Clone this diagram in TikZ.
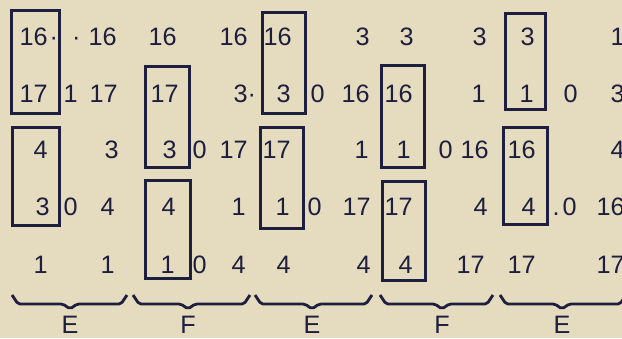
\documentclass[tikz,border=0pt]{standalone}
\usepackage{fontspec}
\setmainfont{Liberation Sans}
\definecolor{paper}{RGB}{229,219,191}
\definecolor{ink}{RGB}{30,30,62}
\tikzset{
  num/.style={anchor=east, inner sep=0pt, text=ink, font=\fontsize{12.6}{14}\selectfont},
  lbl/.style={anchor=north, inner sep=0pt, text=ink, font=\fontsize{12.6}{14}\selectfont},
  grp/.style={draw=ink, line width=1.5pt},
  brk/.style={draw=ink, line width=1.4pt, rounded corners=1pt},
}
\begin{document}
\begin{tikzpicture}[x=0.5pt, y=-0.5pt]
  \fill[paper] (0,0) rectangle (622,338);
  \useasboundingbox (0,0) rectangle (622,338);
  % the five rows, right edges of the columns
  \foreach \x/\t [count=\k] in {48/16\rlap{\kern1pt·}, 117/\llap{·\kern4pt}16, 177/16, 248/16, 292/16,
      370/3, 414/3, 487/3, 535/3, 625/1}
    \node[num] (ra\k) at (\x,37) {\t};
  \foreach \x/\t [count=\k] in {48/17, 78/1, 118/17, 179/17, 248/3\rlap{·}, 291/3, 325/0,
      370/16, 413/16, 486/1, 534/1, 578/0, 625/3}
    \node[num] (rb\k) at (\x,94) {\t};
  \foreach \x/\t [count=\k] in {48/4, 119/3, 177/3, 207/0, 248/17, 291/17, 369/1, 411/1,
      453/0, 489/16, 536/16, 625/4}
    \node[num] (rc\k) at (\x,150) {\t};
  \foreach \x/\t [count=\k] in {50/3, 78/0, 115/4, 176/4, 246/1, 290/1, 322/0, 371/17,
      413/17, 488/4, 536/4, 577/\llap{.\kern1.5pt}0, 625/16}
    \node[num] (rd\k) at (\x,207) {\t};
  \foreach \x/\t [count=\k] in {48/1, 115/1, 175/1, 207/0, 246/4, 291/4, 371/4, 413/4,
      485/17, 536/17, 625/17}
    \node[num] (re\k) at (\x,265) {\t};
  % frames
  \foreach \a/\b/\c/\d in {11/10/59/113, 12/127/59/225, 145/66/189/167, 145/180/190/278,
      262/12/305/113, 260/127/303/228, 381/65/424/167, 382/181/425/280,
      505/13/545/109, 503/127/547/224}
    \draw[grp] (\a,\b) rectangle (\c,\d);
  % braces
  \foreach \a/\m/\b/\l [count=\k] in {12/70/127/E, 133/188/250/F, 255/312/372/E,
      380/442/493/F, 500/562/626/E} {
    \draw[brk] (\a,295) -- (\a+6,304) -- (\m-7,304) -- (\m,309) -- (\m+7,304)
      -- (\b-6,304) -- (\b,295);
    \node[lbl] (part\k) at (\m,316) {\l};
  }
\end{tikzpicture}
\end{document}
